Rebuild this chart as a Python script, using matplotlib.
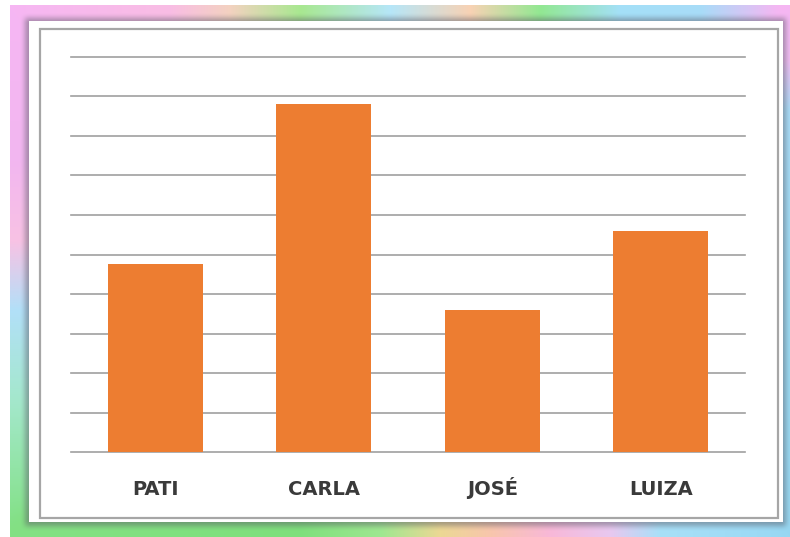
import numpy as np
import matplotlib
matplotlib.use("Agg")
import matplotlib.pyplot as plt
from matplotlib.patches import Rectangle

# ---- data ----
categories = ["PATI", "CARLA", "JOSÉ", "LUIZA"]
values = [4.75, 8.8, 3.6, 5.6]
y_ticks = list(range(0, 11))

W, H = 790, 537
DPI = 100

# ---- decorative background ----
def hex2rgb(h):
    h = h.lstrip('#')
    return np.array([int(h[i:i+2], 16) / 255 for i in (0, 2, 4)])

def grad(stops, n):
    pos = np.array([s[0] for s in stops], float)
    cols = np.array([hex2rgb(s[1]) for s in stops])
    t = np.arange(n)
    return np.stack([np.interp(t, pos, cols[:, k]) for k in range(3)], axis=1)

top = grad([(0, '#f6b6f4'), (170, '#f9bde4'), (230, '#f3d2c0'), (300, '#a8e890'),
            (390, '#b6e6f8'), (470, '#f8d2b4'), (540, '#92e892'), (620, '#a4e0f8'),
            (700, '#a8dcf8'), (780, '#f6b6f2'), (789, '#f6b6f2')], W)
bottom = grad([(0, '#84e084'), (300, '#7ee07c'), (380, '#9ee890'), (440, '#ecd894'),
               (490, '#f8c6ac'), (550, '#f8b8d8'), (610, '#e8c8f0'), (660, '#a8e0f8'),
               (789, '#98d8f4')], W)
left = grad([(0, '#f6b6f4'), (160, '#f2b6f0'), (240, '#f8c2e4'), (310, '#b2e0f8'),
             (400, '#a4e8cc'), (536, '#80e080')], H)
right = grad([(0, '#f6b6f2'), (60, '#f0bcf2'), (110, '#a8dcf8'), (300, '#9cdcf4'),
              (536, '#96d6f0')], H)

yy, xx = np.mgrid[0:H, 0:W]
dt = yy.astype(float)
db = (H - 1 - yy).astype(float)
dl = xx.astype(float)
dr = (W - 1 - xx).astype(float)
s = 6.0
wt, wb, wl, wr = np.exp(-dt / s), np.exp(-db / s), np.exp(-dl / s), np.exp(-dr / s)
tot = wt + wb + wl + wr
img = (top[xx] * wt[..., None] + bottom[xx] * wb[..., None] +
       left[yy] * wl[..., None] + right[yy] * wr[..., None]) / tot[..., None]

# white margin outside the frame (top/left)
img[:5, :, :] = 1.0
img[:, :10, :] = 1.0

def box_blur(a, r):
    for ax_ in (0, 1):
        c = np.cumsum(np.pad(a, [(r + 1, r) if i == ax_ else (0, 0) for i in range(2)], mode='edge'), axis=ax_)
        if ax_ == 0:
            a = (c[2 * r + 1:, :] - c[:-2 * r - 1, :]) / (2 * r + 1)
        else:
            a = (c[:, 2 * r + 1:] - c[:, :-2 * r - 1]) / (2 * r + 1)
    return a

# shadow around the white panel
mask = np.zeros((H, W))
mask[18:526, 25:786] = 1.0
mask = box_blur(box_blur(mask, 3), 2)
shadow_col = hex2rgb('#5a5a66')
alpha = 0.5 * mask
img = img * (1 - alpha[..., None]) + shadow_col * alpha[..., None]

# white panel
img[21:522, 29:783, :] = 1.0

fig = plt.figure(figsize=(W / DPI, H / DPI), dpi=DPI)
bg = fig.add_axes([0, 0, 1, 1])
bg.imshow(img, aspect='auto', interpolation='bilinear')
bg.set_axis_off()

# inner grey frame
fx0, fy0, fx1, fy1 = 40, 29, 778, 518
fig.patches.append(Rectangle((fx0 / W, 1 - fy1 / H), (fx1 - fx0) / W, (fy1 - fy0) / H,
                             transform=fig.transFigure, fill=False,
                             edgecolor='#a6a6a6', linewidth=1.6, zorder=2))

# ---- chart ----
ax_left, ax_right = 71, 745
ax_top, ax_bot = 56.7, 452.3
ax = fig.add_axes([ax_left / W, 1 - ax_bot / H, (ax_right - ax_left) / W, (ax_bot - ax_top) / H])
ax.patch.set_alpha(0)
x = np.arange(len(categories))
ax.bar(x, values, width=0.564, color='#ED7D31', zorder=3)
ax.set_xlim(-0.5, len(categories) - 0.5)
ax.set_ylim(0, 10)
ax.set_yticks(y_ticks)
ax.yaxis.grid(True, color='#a0a0a0', linewidth=1.2)
for gl in ax.get_ygridlines():
    gl.set_clip_on(False)
ax.set_axisbelow(True)
for sp in ax.spines.values():
    sp.set_visible(False)
ax.tick_params(axis='y', length=0, labelleft=False)
ax.set_xticks(x)
ax.set_xticklabels(categories, fontsize=14, fontweight='bold', color='#3a3a3a',
                   fontfamily='DejaVu Sans', va='baseline')
ax.tick_params(axis='x', length=0, pad=31)

fig.savefig('out.png', dpi=DPI)
